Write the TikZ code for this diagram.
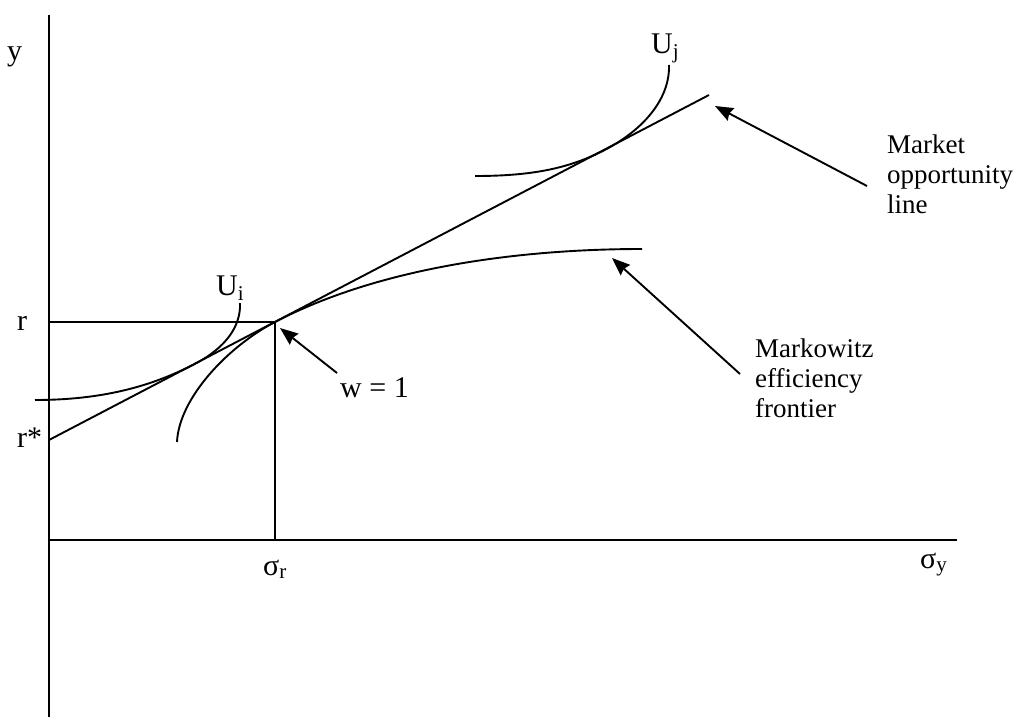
\documentclass[tikz,border=0pt]{standalone}
\usepackage{fontspec}
\setmainfont{Liberation Serif}
\usetikzlibrary{arrows.meta}
\begin{document}
\begin{tikzpicture}[x=1pt,y=-1pt,
  ln/.style={line width=1.9pt, black},
  ptr/.style={line width=1.9pt, black, -{Stealth[length=18pt,width=14pt,inset=2pt]}},
  lab/.style={font=\fontsize{30}{34}\selectfont, inner sep=0pt, anchor=base west},
  note/.style={font=\fontsize{27}{30}\selectfont, align=left, inner sep=0pt, anchor=north west}]
\useasboundingbox (0,0) rectangle (1014,717);
% key points
\coordinate (Ytop) at (49,15);
\coordinate (Ybot) at (49,717);
\coordinate (O) at (49,540);
\coordinate (Xend) at (957,540);
\coordinate (R) at (49,322);
\coordinate (W) at (275,322);
\coordinate (Wx) at (275,540);
\coordinate (Rs) at (49,440);
\coordinate (Mend) at (709,95);
% axes and guide lines
\draw[ln] (Ytop) -- (Ybot);
\draw[ln] (O) -- (Xend);
\draw[ln] (R) -- (W) -- (Wx);
% market opportunity line
\draw[ln] (Rs) -- (Mend);
% Markowitz efficiency frontier
\coordinate (F0) at (177,442);
\coordinate (F1) at (642,249);
\draw[ln] (F0) .. controls (179,398) and (228,346.5) .. (W)
  .. controls (380,267.2) and (520,249) .. (F1);
% indifference curve U_i
\coordinate (Ui0) at (35,400);
\coordinate (Ti) at (195,363.8);
\coordinate (Ui1) at (240,303);
\draw[ln] (Ui0) .. controls (100,400) and (150,387.3) .. (Ti)
  .. controls (226,347.6) and (241,326) .. (Ui1);
% indifference curve U_j
\coordinate (Uj0) at (475,176);
\coordinate (Tj) at (605,149.8);
\coordinate (Uj1) at (669,65);
\draw[ln] (Uj0) .. controls (530,176) and (568,169.1) .. (Tj)
  .. controls (642,130.5) and (670,100) .. (Uj1);
% labels
\node[lab] (ly) at (7,60) {y};
\node[lab] (lr) at (17,330) {r};
\node[lab] (lrs) at (17,447) {r*};
\node[lab] (lsr) at (263,575) {σ\textsubscript{r}};
\node[lab] (lsy) at (920,568) {σ\textsubscript{y}};
\node[lab] (lui) at (216,295) {U\textsubscript{i}};
\node[lab] (luj) at (651,53) {U\textsubscript{j}};
\node[lab] (lw) at (340,397) {w = 1};
\node[note] (mkt) at (887,135) {Market\\opportunity\\line};
\node[note] (mkz) at (755,339) {Markowitz\\efficiency\\frontier};
% pointers
\coordinate (mktTail) at (867,186);
\coordinate (mktTip) at (715,106);
\coordinate (mkzTail) at (740,374);
\coordinate (mkzTip) at (612,258);
\coordinate (wTail) at (337,373);
\coordinate (wTip) at (280,328);
\draw[ptr] (mktTail) -- (mktTip);
\draw[ptr] (mkzTail) -- (mkzTip);
\draw[ptr] (wTail) -- (wTip);
\end{tikzpicture}
\end{document}
